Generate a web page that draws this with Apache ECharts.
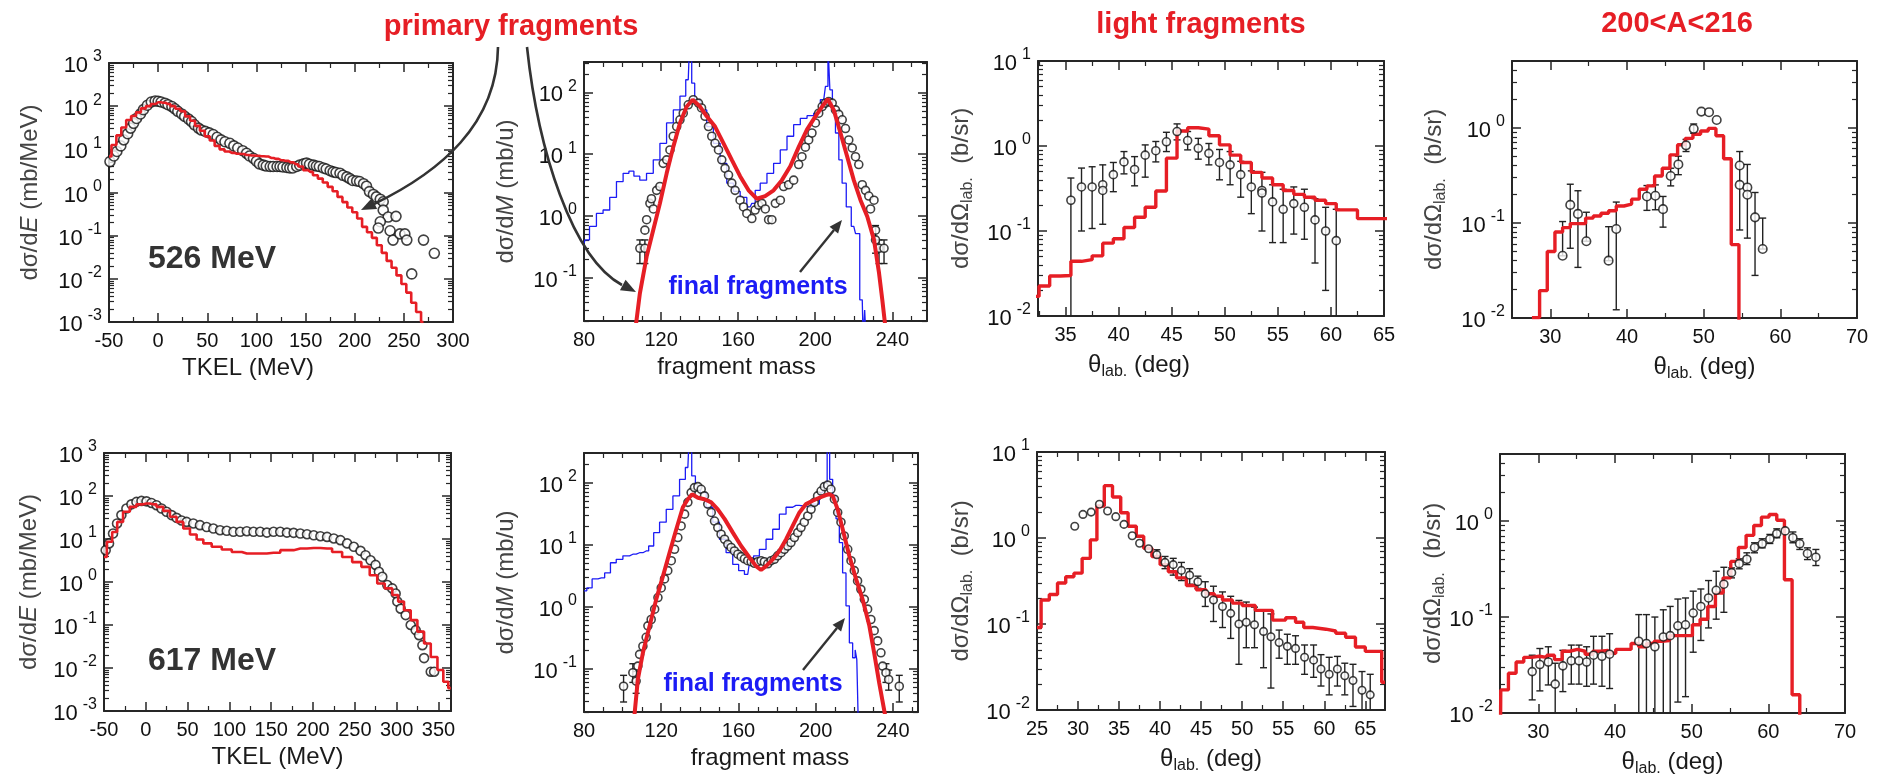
<!DOCTYPE html>
<html><head><meta charset="utf-8">
<script src="https://cdn.jsdelivr.net/npm/echarts@6/dist/echarts.min.js"></script>
<style>html,body{margin:0;padding:0;background:#fff}#c{width:1890px;height:776px}</style>
</head><body><div id="c"></div>
<script>
// ---------------- DATA ----------------
// Panel 1: 526 MeV, TKEL distribution
const tkel526Model = [[-50,6.8],[-45,12.6],[-40,21],[-35,32],[-30,48],[-25,59],[-20,72],[-15,89],[-10,100],[-5,112],[0,123],[5,120],[10,112],[15,100],[20,87],[25,76],[30,58],[35,46],[40,35],[45,27],[50,20],[55,16],[60,12],[65,10],[70,8.9],[75,8.3],[80,7.9],[85,7.8],[90,7.4],[95,7.2],[100,7.1],[105,6.9],[110,6.8],[115,6.3],[120,6.0],[125,5.6],[130,5.4],[135,5.0],[140,4.5],[145,4.0],[150,3.3],[155,3.0],[160,2.5],[165,2.1],[170,1.7],[175,1.35],[180,1.07],[185,0.79],[190,0.6],[195,0.45],[200,0.35],[205,0.25],[210,0.16],[215,0.12],[220,0.089],[225,0.06],[230,0.04],[235,0.026],[240,0.018],[245,0.012],[250,0.0076],[255,0.0048],[260,0.0028],[265,0.0017],[270,0.001]];
const tkel526Exp = [[-49,5.2],[-45,7],[-42,8.9],[-38,12],[-35,16.6],[-31,23],[-28,31],[-25,40],[-22,52],[-18,66],[-15,83],[-11,105],[-7,125],[-3,132],[0,130],[3,125],[7,117],[10,108],[14,98],[17,87],[20,76],[24,66],[27,58],[31,50],[34,44],[37,37],[41,31],[44,28],[48,26],[52,24],[56,22],[60,19],[64,16.6],[68,15],[73,13.8],[77,12],[81,10.7],[86,9.3],[90,8.1],[93,7],[97,6.2],[100,5.3],[103,4.6],[107,4.3],[110,4.1],[114,4.0],[117,4.0],[121,4.0],[124,4.0],[127,3.9],[131,3.8],[134,3.7],[137,3.7],[141,4.0],[144,4.3],[148,4.6],[151,4.8],[154,4.5],[158,4.3],[161,4.1],[164,4.0],[168,3.7],[171,3.5],[175,3.2],[178,3.0],[181,2.9],[185,2.8],[188,2.5],[192,2.3],[195,2.1],[198,1.9],[202,1.85],[205,1.8],[209,1.6],[212,1.4],[215,1.05],[219,0.9],[222,0.79],[226,0.7],[229,0.61],[229,0.39],[234,0.27],[226,0.21],[224,0.15],[236,0.13],[242,0.28],[239,0.079],[246,0.11],[251,0.11],[253,0.079],[258,0.013],[270,0.079],[281,0.039]];

// Panel 2: 526 MeV, fragment mass
const mass526Model = [[106.7,0.015],[109,0.056],[112.5,0.22],[115.9,0.59],[119.4,1.6],[122.9,4.9],[126.3,13],[129.8,32],[133.3,59],[136.4,76],[140.2,59],[143.7,41],[148,28],[152.4,15],[156.7,8.1],[161,4.4],[165.4,2.6],[169.7,1.9],[174,2.1],[178.4,2.6],[182.7,3.8],[187,6.3],[191.4,13],[195.7,25],[200.1,41],[203.6,59],[206.5,78],[209.6,52],[213.1,22],[216.6,9.1],[220,3.8],[223.5,1.8],[227,0.98],[230.5,0.41],[233.1,0.12],[234.8,0.044],[236.5,0.015]];
const mass526Final = [[80,0.36],[81,0.41],[84.7,0.68],[88.2,1.1],[91.6,1.25],[95.1,2.0],[98.6,3.6],[102,4.9],[104.6,5.3],[107.2,4.4],[110.7,3.8],[114.2,4.9],[117.7,8.1],[121.1,15],[124.6,32],[128.1,52],[131.5,87],[134.1,160],[135.4,600],[136.4,141],[138.5,76],[142,52],[145.4,28],[148.9,15],[152.4,7.1],[155.8,3.4],[159.3,2.5],[162.8,2.0],[166.2,1.4],[168,1.6],[169.7,2.6],[173.2,3.4],[176.7,4.9],[180.1,7.1],[183.6,11.7],[187.1,19.5],[190.5,30],[194,38],[197.5,42],[200.9,46],[204.4,76],[206.2,125],[207,600],[208.2,110],[209.6,52],[211.4,22],[213.1,8.1],[214.8,3.4],[217.4,1.4],[220,0.68],[221.8,0.52],[224.4,0.044],[225.3,0.01],[226,0.03],[226.8,0.01]];
const mass526Exp = [[109,0.30],[111.6,0.30],[111.6,0.59],[112.5,0.87],[114.2,1.6],[115,1.9],[116,1.3],[117.7,2.6],[119.4,3.0],[121.1,7.1],[122.9,8.1],[124.6,11.7],[126.3,19.5],[128.1,28],[129.8,36],[131.5,46],[134.1,63],[136.7,76],[139.4,67],[141,56],[142.8,41],[144.6,28],[146.3,19.5],[148,15],[149.8,11.7],[151.5,8.1],[153.2,5.9],[155,4.6],[156.7,3.4],[158.4,2.6],[161,1.8],[162.8,1.4],[164.5,1.1],[167.1,0.91],[168.8,1.25],[170.6,1.5],[172.3,1.6],[174.1,1.3],[175.8,0.87],[177.5,0.87],[179.3,1.6],[181.9,1.8],[183.6,3.0],[186.2,3.2],[188.8,3.8],[191.4,6.8],[193.1,9.1],[194.9,13],[196.6,17],[198.3,22],[200.1,32],[201.8,46],[203.6,59],[205.3,67],[207,71],[208.8,67],[210.5,52],[212.2,44],[214,36],[215.7,26],[217.4,17],[219.2,12.6],[220.9,9.1],[222.6,6.8],[224.4,3.2],[226.1,2.6],[227.8,2.1],[228.7,1.3],[230.5,1.8],[231.3,0.59],[231.3,0.41],[233.1,0.30],[235.7,0.30]];
const mass526Err = [[109,0.17,0.41],[111.6,0.17,0.41],[231.3,0.25,0.7],[233.1,0.17,0.41],[235.7,0.17,0.41]];

// Panel 3: 526 MeV, light fragments angular distribution (model bins: [left edge, value])
const light526Model = [[31.5,0.017],[32.5,0.0225],[33.5,0.0295],[34.5,0.030],[35.5,0.044],[36.5,0.046],[37.5,0.051],[38.5,0.072],[39.5,0.081],[40.5,0.11],[41.5,0.145],[42.5,0.19],[43.5,0.295],[44.5,0.72],[45.5,1.5],[46.5,1.64],[47.5,1.58],[48.5,1.32],[49.5,1.03],[50.5,0.78],[51.5,0.64],[52.5,0.49],[53.5,0.42],[54.5,0.35],[55.5,0.30],[56.5,0.27],[57.5,0.25],[58.5,0.23],[59.5,0.21],[60.5,0.177],[61.5,0.177],[62.5,0.14],[63.5,0.14],[64.5,0.14],[65.5,0.14]];
const light526Exp = [[35.5,0.23],[36.5,0.33],[37.5,0.33],[38.5,0.35],[38.5,0.30],[39.5,0.46],[40.5,0.65],[41.5,0.53],[42.5,0.78],[43.5,0.88],[44.5,1.12],[45.5,1.48],[46.5,1.16],[47.5,0.94],[48.5,0.82],[49.5,0.64],[50.5,0.60],[51.5,0.46],[52.5,0.33],[53.5,0.30],[53.5,0.28],[54.5,0.22],[55.5,0.18],[56.5,0.21],[57.5,0.19],[58.5,0.135],[59.5,0.10],[60.5,0.077]];
const light526Err = [[35.5,0.005,0.42],[36.5,0.10,0.55],[37.5,0.107,0.57],[38.5,0.12,0.6],[39.5,0.29,0.64],[40.5,0.47,0.86],[41.5,0.34,0.75],[42.5,0.43,1.03],[43.5,0.65,1.13],[44.5,0.86,1.45],[45.5,1.18,1.82],[46.5,0.9,1.48],[47.5,0.7,1.23],[48.5,0.6,1.07],[49.5,0.40,0.91],[50.5,0.35,0.86],[51.5,0.25,0.66],[52.5,0.16,0.51],[53.5,0.10,0.49],[54.5,0.073,0.35],[55.5,0.073,0.31],[56.5,0.092,0.33],[57.5,0.08,0.31],[58.5,0.042,0.24],[59.5,0.02,0.19],[60.5,0.005,0.18]];

// Panel 4: 526 MeV, 200<A<216 angular distribution
const heavy526Model = [[27.6,0.0101],[28.6,0.0194],[29.6,0.050],[30.6,0.080],[31.6,0.089],[32.6,0.098],[33.6,0.098],[34.6,0.112],[35.6,0.118],[36.6,0.126],[37.6,0.134],[38.6,0.15],[39.6,0.157],[40.6,0.177],[41.6,0.225],[42.6,0.244],[43.6,0.31],[44.6,0.374],[45.6,0.516],[46.6,0.66],[47.6,0.77],[48.6,0.85],[49.6,0.92],[50.6,0.98],[51.6,0.82],[52.6,0.47],[53.6,0.059],[54.6,0.001],[55.6,0.001]];
const heavy526Exp = [[31.6,0.045],[32.6,0.154],[33.6,0.124],[34.7,0.064],[37.6,0.040],[38.6,0.086],[42.6,0.189],[43.7,0.192],[44.7,0.139],[45.7,0.31],[46.7,0.41],[47.7,0.65],[48.7,0.97],[49.7,1.47],[50.7,1.45],[51.7,1.20],[54.7,0.40],[54.7,0.25],[55.7,0.235],[55.7,0.197],[56.7,0.114],[57.7,0.053]];
const heavy526Err = [[31.6,0.045,0.103],[32.6,0.054,0.254],[33.6,0.034,0.217],[34.7,0.064,0.129],[37.6,0.040,0.091],[38.6,0.0122,0.165],[42.6,0.135,0.246],[43.7,0.137,0.25],[44.7,0.09,0.189],[45.7,0.244,0.374],[46.7,0.32,0.50],[47.7,0.56,0.75],[48.7,0.87,1.09],[54.7,0.084,0.56],[55.7,0.069,0.41],[56.7,0.028,0.208],[57.7,0.053,0.112]];

// Panel 5: 617 MeV, TKEL distribution
const tkel617Model = [[-50,3.8],[-43.2,8.6],[-37.2,14.6],[-31.2,25],[-23.2,43],[-15.2,56],[-7.2,64],[0.8,67],[8.8,64],[16.8,56],[24.8,45],[32.8,33],[40.8,25],[48.8,17.5],[56.8,12.7],[64.8,9.7],[72.8,7.9],[84.8,6.6],[96.8,5.7],[108.8,5.0],[120.8,4.6],[136.8,4.6],[152.8,4.8],[168.8,5.5],[184.8,6.0],[200.8,6.2],[216.8,6.0],[228.8,5.0],[240.8,3.8],[252.8,2.9],[262.8,2.25],[272.8,1.44],[280.8,0.92],[290.8,0.71],[298.8,0.50],[304.8,0.35],[312.8,0.22],[320.8,0.13],[328.8,0.070],[336.8,0.037],[344.8,0.018],[352.8,0.009],[358.8,0.0048],[364.8,0.0034]];
const tkel617Exp = [[-48,5.5],[-44,7.9],[-39.2,13.4],[-34.4,23],[-29.2,36],[-23.2,51],[-17.2,64],[-11.2,73],[-5.2,77],[0.8,75],[6.8,69],[12.8,61],[18.8,51],[24.8,43],[30.8,36],[36.8,31],[42.8,27],[48.8,25],[56.8,23],[64.8,21],[72.8,19],[80.8,17.5],[88.8,16],[96.8,15.5],[104.8,14.7],[112.8,14.7],[120.8,15.2],[128.8,14.7],[136.8,14.7],[144.8,14.1],[152.8,14.7],[160.8,14.7],[168.8,14.1],[176.8,13.9],[184.8,13.4],[192.8,12.9],[200.8,12.2],[208.8,11.6],[216.8,11.2],[224.8,10.3],[232.8,9.4],[240.8,7.9],[248.8,6.6],[256.8,5.3],[262.8,4.2],[268.8,3.2],[274.8,2.5],[278.8,1.73],[282.8,1.32],[288.8,0.85],[294.8,0.71],[298.8,0.54],[300.8,0.35],[304.8,0.24],[310.8,0.17],[316.8,0.10],[322.8,0.076],[326.8,0.058],[330.8,0.034],[332.8,0.017],[340.8,0.0082],[344.8,0.0082]];

// Panel 6: 617 MeV, fragment mass
const mass617Model = [[105.9,0.015],[107.9,0.067],[110.5,0.18],[114,0.49],[117.4,1.31],[120.9,3.1],[124.3,7.4],[127.8,17.7],[131.2,40],[133.8,54],[136,65],[139,57],[142.4,54],[145.9,48],[149.3,37],[152.8,26],[157.1,15.6],[161.4,9.5],[165.7,6.2],[169.1,4.5],[171.7,3.9],[174.3,4.5],[177.8,5.8],[181.2,7.9],[184.7,12.2],[188.1,20],[191.6,33],[195,45],[198.4,51],[201.9,57],[205.3,63],[207.1,65],[208.8,61],[211.4,37],[214,17.7],[217.4,6.6],[220.9,2.8],[224.3,1.31],[227.8,0.49],[230.3,0.18],[232.9,0.059],[236.4,0.015]];
const mass617Final = [[80,1.8],[82.9,2.0],[85.5,2.8],[89,2.9],[92.4,3.5],[95,5.1],[98.4,5.8],[101.9,6.6],[105.3,7.0],[108.8,7.4],[112.2,7.9],[114.8,9.5],[117.4,15.6],[120.9,23],[124.3,37],[127.8,61],[131.2,113],[133.8,175],[135.2,600],[136.4,128],[139,88],[141.6,69],[145,40],[148.4,23],[151.9,12.2],[155.3,7.4],[158.8,4.8],[161.4,3.8],[164.8,3.3],[166.6,5.1],[169.1,6.6],[172.6,8.4],[176,12.2],[179.5,17.7],[182.9,31],[186.4,40],[189.8,43],[193.3,42],[196.7,40],[200.2,45],[203.6,69],[205.3,100],[206.6,600],[207.9,113],[209.7,61],[211.4,26],[213.1,10.8],[214.8,3.5],[216.6,1.03],[218.3,0.26],[220,0.15],[220.9,0.20],[221.7,0.14],[222.6,0.01]];
const mass617Exp = [[100.5,0.052],[105.3,0.086],[107,0.063],[107.9,0.11],[108.8,0.17],[110.5,0.23],[112.2,0.32],[113.1,0.49],[114.8,0.62],[116.6,0.91],[118.3,1.4],[120,2.0],[121.7,2.8],[123.4,3.8],[125.2,5.5],[126.9,8.4],[128.6,13],[130.3,20],[132.1,31],[133.8,48],[135.5,69],[137.2,83],[139,86],[140.7,78],[142.4,61],[144.1,45],[145.9,33],[147.6,24],[149.3,18.8],[151,14.7],[152.8,12.2],[154.5,10.1],[156.2,9.0],[157.9,7.9],[159.7,7.0],[161.4,6.4],[163.1,5.9],[164.8,5.5],[166.6,5.3],[168.3,5.0],[170,5.3],[171.7,5.5],[173.4,5.3],[175.2,4.9],[176.9,5.5],[178.6,5.8],[180.3,6.6],[182.1,7.4],[183.8,8.4],[185.5,9.5],[187.2,10.8],[189,13],[190.7,15.6],[192.4,18.8],[194.1,23],[195.9,29],[197.6,37],[199.3,48],[201,61],[202.8,73],[204.5,86],[206.2,91],[207.9,78],[209.7,54],[211.4,33],[213.1,23],[214.8,13.8],[216.6,8.4],[218.3,5.5],[220,3.8],[221.7,2.6],[223.4,1.9],[225.2,1.31],[226.9,0.91],[228.6,0.62],[230.3,0.41],[232.1,0.28],[233.8,0.18],[234.7,0.11],[236.4,0.086],[237.8,0.067],[243.3,0.052]];
const mass617Err = [[100.5,0.029,0.078],[105.3,0.06,0.12],[107,0.04,0.09],[236.4,0.06,0.12],[237.8,0.045,0.095],[243.3,0.029,0.078]];

// Panel 7: 617 MeV, light fragments
const light617Model = [[25,0.091],[25.5,0.19],[26.5,0.22],[27.5,0.30],[28.5,0.355],[29.5,0.39],[30.5,0.58],[31.5,0.95],[32.3,2.36],[33.2,4.06],[34.2,3.0],[35.2,1.97],[36.1,1.37],[37.1,1.05],[38.0,0.76],[39.0,0.61],[40.0,0.49],[41.0,0.405],[42.0,0.344],[43.2,0.28],[44.4,0.25],[45.6,0.225],[46.6,0.21],[47.6,0.19],[48.8,0.175],[50.0,0.164],[51.6,0.144],[53.7,0.111],[55.3,0.118],[56.5,0.105],[57.5,0.091],[58.6,0.087],[60.2,0.083],[61.4,0.078],[62.6,0.070],[63.8,0.054],[65.0,0.048],[67.0,0.021],[67.4,0.021]];
const light617Exp = [[29.6,1.37],[30.6,1.88],[31.6,2.0],[32.6,2.47],[33.6,2.06],[34.6,1.77],[35.6,1.44],[36.6,1.06],[37.5,0.87],[38.6,0.75],[39.6,0.64],[40.6,0.52],[41.6,0.49],[42.6,0.42],[43.6,0.37],[44.6,0.31],[45.5,0.225],[46.5,0.19],[47.6,0.16],[48.6,0.133],[49.6,0.10],[50.5,0.105],[51.5,0.098],[52.6,0.082],[53.5,0.071],[54.5,0.061],[55.5,0.055],[56.5,0.052],[57.6,0.041],[58.7,0.038],[59.6,0.030],[60.6,0.026],[61.6,0.030],[62.5,0.025],[63.5,0.022],[64.6,0.017],[65.6,0.015]];
const light617Err = [[39.6,0.61,0.73],[40.6,0.44,0.61],[41.6,0.37,0.58],[42.6,0.32,0.52],[43.6,0.29,0.44],[44.6,0.26,0.36],[45.5,0.16,0.31],[46.5,0.107,0.275],[47.6,0.091,0.236],[48.6,0.068,0.21],[49.6,0.034,0.188],[50.5,0.053,0.18],[51.5,0.053,0.157],[52.6,0.031,0.144],[53.5,0.018,0.131],[54.5,0.04,0.085],[55.5,0.034,0.076],[56.5,0.034,0.073],[57.6,0.026,0.057],[58.7,0.024,0.057],[59.6,0.019,0.044],[60.6,0.015,0.041],[61.6,0.019,0.042],[62.5,0.015,0.035],[63.5,0.011,0.034],[64.6,0.005,0.028],[65.6,0.005,0.026]];

// Panel 8: 617 MeV, 200<A<216
const heavy617Model = [[25,0.001],[25.1,0.0174],[26.1,0.026],[27.1,0.034],[28.1,0.038],[29.1,0.039],[30.1,0.038],[31.1,0.040],[32.1,0.036],[33.1,0.044],[34.1,0.046],[35.1,0.044],[36.1,0.041],[37.1,0.044],[38.1,0.045],[39.1,0.042],[40.1,0.046],[41.1,0.046],[42.1,0.053],[43.1,0.049],[44.1,0.053],[45.1,0.056],[46.1,0.057],[47.1,0.064],[48.1,0.064],[49.1,0.064],[50.1,0.083],[51.1,0.095],[52.1,0.129],[53.1,0.178],[54.1,0.256],[55.1,0.38],[56.1,0.53],[57.1,0.71],[58.1,0.90],[59.1,1.10],[60.1,1.17],[61.1,1.02],[62.1,0.245],[63.1,0.0155],[64.1,0.001],[65.1,0.001]];
const heavy617Exp = [[29.2,0.027],[30.2,0.032],[31.3,0.034],[32.2,0.020],[33.2,0.031],[34.3,0.035],[35.3,0.035],[36.3,0.034],[37.2,0.040],[38.3,0.039],[39.3,0.041],[43.1,0.056],[44.1,0.053],[45.2,0.049],[46.3,0.062],[47.2,0.064],[48.2,0.081],[49.2,0.083],[50.2,0.110],[51.2,0.129],[52.2,0.158],[53.2,0.19],[54.2,0.22],[55.2,0.29],[56.2,0.36],[57.2,0.40],[58.2,0.53],[59.2,0.58],[60.2,0.65],[61.1,0.74],[62.2,0.79],[63.2,0.67],[64.1,0.58],[65.1,0.46],[66.2,0.42]];
const heavy617Err = [[29.2,0.0137,0.040],[30.2,0.017,0.047],[31.3,0.0196,0.049],[32.2,0.005,0.033],[33.2,0.0167,0.045],[34.3,0.020,0.051],[35.3,0.020,0.051],[36.3,0.019,0.049],[37.2,0.020,0.063],[38.3,0.019,0.063],[39.3,0.018,0.067],[43.1,0.005,0.106],[44.1,0.005,0.106],[45.2,0.005,0.1],[46.3,0.005,0.119],[47.2,0.005,0.129],[48.2,0.013,0.154],[49.2,0.0148,0.158],[50.2,0.043,0.186],[51.2,0.057,0.196],[52.2,0.077,0.24],[53.2,0.095,0.30],[54.2,0.112,0.33],[55.2,0.256,0.325],[56.2,0.318,0.404],[57.2,0.352,0.467],[58.2,0.467,0.594],[59.2,0.526,0.654],[60.2,0.584,0.726],[61.1,0.67,0.83],[63.2,0.594,0.77],[64.1,0.506,0.654],[65.1,0.397,0.526],[66.2,0.344,0.506]];

// Text
const columnTitles = ['primary fragments', 'light fragments', '200<A<216'];
const energyLabels = ['526 MeV', '617 MeV'];
const finalLabel = 'final fragments';
const yNames = {
  tkel: '{n|dσ/d}{i|E}{n| (mb/MeV)}',
  mass: '{n|dσ/d}{i|M}{n| (mb/u)}',
  omega: '{n|dσ/dΩ}{s|lab.}{n|  (b/sr)}'
};
const xNames = { tkel: 'TKEL (MeV)', mass: 'fragment mass', theta: '{n|θ}{s|lab.}{n| (deg)}' };

// ---------------- CHART ----------------
const FONT = '"Liberation Sans", Arial, Helvetica, sans-serif';
const AX = '#262626';
const RED = '#e61e25';
const BLUE = '#1c1cf5';

const grids = [
  {left:109, top:63, width:344, height:259},
  {left:584, top:62, width:343, height:259},
  {left:1038, top:61, width:346, height:255},
  {left:1512, top:61, width:345, height:257},
  {left:104, top:453, width:347, height:258},
  {left:584, top:453, width:334, height:259},
  {left:1037, top:452, width:348, height:258},
  {left:1500, top:454, width:345, height:259}
].map(g => Object.assign({containLabel:false, outerBoundsMode:'none'}, g));

const nameRich = {
  n: {fontSize:24, color:'#444', fontFamily:FONT, lineHeight:30},
  i: {fontSize:24, color:'#444', fontFamily:FONT, fontStyle:'italic', lineHeight:30},
  s: {fontSize:16, color:'#444', fontFamily:FONT, lineHeight:16, verticalAlign:'bottom'}
};
const xNameRich = {
  n: {fontSize:24, color:'#1a1a1a', fontFamily:FONT, lineHeight:30},
  s: {fontSize:16, color:'#1a1a1a', fontFamily:FONT, lineHeight:16, verticalAlign:'bottom'}
};

function logLabel(v) {
  const e = Math.log10(v), r = Math.round(e);
  if (Math.abs(e - r) > 1e-6) return '';
  return '{b|10}{e|' + r + '}';
}

const axisLineStyle = {color: AX, width: 2};
function xAxes(gi, min, max, step, opts) {
  const base = {
    type:'value', gridIndex:gi, min, max,
    splitLine:{show:false},
    axisLine:{onZero:false, lineStyle:axisLineStyle},
    axisTick:{inside:true, length:9, lineStyle:{color:AX, width:1.5}},
    minorTick:{show:true, splitNumber:opts.minor, length:5, lineStyle:{color:AX, width:1.2}}
  };
  if (opts.useInterval) base.interval = step; else base.splitNumber = opts.split;
  const bottom = Object.assign({}, base, {
    position:'bottom',
    axisLabel:{color:'#111', fontSize:20, fontFamily:FONT, margin:9,
      formatter: v => (Math.abs(v/step - Math.round(v/step)) < 1e-6 ? String(Math.round(v)) : '')},
    name: opts.name, nameLocation:'middle', nameGap: 34, nameMoveOverlap:false,
    nameTextStyle:{fontSize:24, color:'#1a1a1a', fontFamily:FONT, rich:xNameRich, padding:opts.pad || 0}
  });
  const top = Object.assign({}, base, {position:'top', axisLabel:{show:false}});
  return [bottom, top];
}
function yAxes(gi, min, max, name, gap) {
  const base = {
    type:'log', logBase:10, gridIndex:gi, min, max,
    splitLine:{show:false},
    axisLine:{onZero:false, lineStyle:axisLineStyle},
    axisTick:{inside:true, length:9, lineStyle:{color:AX, width:1.5}},
    minorTick:{show:true, splitNumber:9, length:5, lineStyle:{color:AX, width:1.2}}
  };
  const left = Object.assign({}, base, {
    position:'left',
    axisLabel:{formatter:logLabel, margin:7, rich:{
      b:{fontSize:22, color:'#111', fontFamily:FONT, lineHeight:28, verticalAlign:'bottom'},
      e:{fontSize:16, color:'#111', fontFamily:FONT, lineHeight:12, verticalAlign:'top', padding:[0,0,0,5]}
    }},
    name, nameLocation:'middle', nameRotate:90, nameGap:gap, nameMoveOverlap:false,
    nameTextStyle:{fontSize:24, color:'#444', fontFamily:FONT, rich:nameRich}
  });
  const right = Object.assign({}, base, {position:'right', axisLabel:{show:false}});
  return [left, right];
}

const xAxis = [].concat(
  xAxes(0, -50, 300, 50, {useInterval:true, minor:2, name:xNames.tkel, pad:[0,66,0,0]}),
  xAxes(1, 80, 258, 40, {useInterval:true, minor:4, name:xNames.mass, pad:[0,38,0,0]}),
  xAxes(2, 32.4, 65, 5, {split:7, minor:2, name:xNames.theta, pad:[0,144,0,0]}),
  xAxes(3, 25, 70, 10, {split:5, minor:2, name:xNames.theta, pad:[0,0,0,40]}),
  xAxes(4, -50, 365, 50, {useInterval:true, minor:2, name:xNames.tkel}),
  xAxes(5, 80, 253, 40, {useInterval:true, minor:4, name:xNames.mass, pad:[0,0,0,38]}),
  xAxes(6, 25, 67.4, 5, {useInterval:true, minor:2, name:xNames.theta}),
  xAxes(7, 25, 70, 10, {split:5, minor:2, name:xNames.theta})
);
const yAxis = [].concat(
  yAxes(0, 0.001, 1000, yNames.tkel, 64),
  yAxes(1, 0.02, 310, yNames.mass, 63),
  yAxes(2, 0.01, 10, yNames.omega, 62),
  yAxes(3, 0.01, 5, yNames.omega, 63),
  yAxes(4, 0.001, 1000, yNames.tkel, 60),
  yAxes(5, 0.02, 300, yNames.mass, 63),
  yAxes(6, 0.01, 10, yNames.omega, 61),
  yAxes(7, 0.01, 5, yNames.omega, 52)
);

function errRender(params, api) {
  const x = api.value(0), lo = api.value(1), hi = api.value(2);
  const cs = params.coordSys;
  const top = api.coord([x, hi]), bot = api.coord([x, lo]);
  const px = top[0];
  const y1 = Math.max(top[1], cs.y), y2 = Math.min(bot[1], cs.y + cs.height);
  const cap = 3.5;
  const style = {stroke:'#222', lineWidth:1.4};
  const ch = [{type:'line', shape:{x1:px, y1:y1, x2:px, y2:y2}, style}];
  if (top[1] >= cs.y) ch.push({type:'line', shape:{x1:px-cap, y1:top[1], x2:px+cap, y2:top[1]}, style});
  if (bot[1] <= cs.y + cs.height) ch.push({type:'line', shape:{x1:px-cap, y1:bot[1], x2:px+cap, y2:bot[1]}, style});
  return {type:'group', children:ch};
}

const series = [];
function model(i, data, step, width, z) {
  series.push({type:'line', xAxisIndex:2*i, yAxisIndex:2*i, data, step, showSymbol:false, symbol:'none',
    clip:true, lineStyle:{color:RED, width}, z, silent:true});
}
function finalLine(i, data) {
  series.push({type:'line', xAxisIndex:2*i, yAxisIndex:2*i, data, step:'middle', showSymbol:false, symbol:'none',
    clip:true, lineStyle:{color:BLUE, width:1.3}, z:2, silent:true});
}
function exp(i, data, size, z) {
  series.push({type:'scatter', xAxisIndex:2*i, yAxisIndex:2*i, data, symbol:'circle', symbolSize:size,
    itemStyle:{color:'#fff', borderColor:'#111', borderWidth:1.6}, z, silent:true, clip:true});
}
function err(i, data) {
  series.push({type:'custom', xAxisIndex:2*i, yAxisIndex:2*i, data, renderItem:errRender,
    encode:{x:0, y:[1,2]}, z:2, silent:true, clip:true});
}

// top row
exp(0, tkel526Exp, 10, 3); model(0, tkel526Model, 'middle', 2.6, 4);
finalLine(1, mass526Final); err(1, mass526Err); exp(1, mass526Exp, 8, 3); model(1, mass526Model, false, 4, 4);
model(2, light526Model, 'end', 3.4, 3); err(2, light526Err); exp(2, light526Exp, 8, 4);
model(3, heavy526Model, 'end', 3.4, 3); err(3, heavy526Err); exp(3, heavy526Exp, 8.5, 4);
// bottom row
exp(4, tkel617Exp, 9, 3); model(4, tkel617Model, 'middle', 2.6, 4);
finalLine(5, mass617Final); err(5, mass617Err); exp(5, mass617Exp, 8, 3); model(5, mass617Model, false, 4, 4);
model(6, light617Model, 'end', 3.4, 3); err(6, light617Err); exp(6, light617Exp, 7.5, 4);
model(7, heavy617Model, 'end', 3.4, 3); err(7, heavy617Err); exp(7, heavy617Exp, 8, 4);

// annotations
function arrowHead(tx, ty, fx, fy, len, hw) {
  const dx = tx - fx, dy = ty - fy, d = Math.hypot(dx, dy), ux = dx/d, uy = dy/d;
  const bx = tx - ux*len, by = ty - uy*len;
  return {type:'polygon', shape:{points:[[tx,ty],[bx - uy*hw, by + ux*hw],[bx + uy*hw, by - ux*hw]]},
    style:{fill:'#333'}, z:100};
}
const txt = (s, x, y, font, fill) => ({type:'text', z:100,
  style:{text:s, x, y, font, fill, align:'center', verticalAlign:'middle', textAlign:'center', textVerticalAlign:'middle'}});
const curveStyle = {stroke:'#333', lineWidth:2.6, fill:null};
const graphic = [
  txt(columnTitles[0], 511, 27, 'bold 29px ' + FONT, RED),
  txt(columnTitles[1], 1201, 25, 'bold 29px ' + FONT, RED),
  txt(columnTitles[2], 1677, 24, 'bold 29px ' + FONT, RED),
  txt(energyLabels[0], 212, 259, 'bold 32px ' + FONT, '#333'),
  txt(energyLabels[1], 212, 661, 'bold 32px ' + FONT, '#333'),
  txt(finalLabel, 758, 287, 'bold 25px ' + FONT, BLUE),
  txt(finalLabel, 753, 684, 'bold 25px ' + FONT, BLUE),
  {type:'bezierCurve', z:100, shape:{x1:498, y1:47, cpx1:497, cpy1:125, cpx2:440, cpy2:172, x2:374, y2:204}, style:curveStyle},
  arrowHead(361, 210, 440, 172, 15, 6),
  {type:'bezierCurve', z:100, shape:{x1:527, y1:47, cpx1:538, cpy1:150, cpx2:572, cpy2:258, x2:622, y2:285}, style:curveStyle},
  arrowHead(636, 292, 572, 258, 15, 6),
  {type:'line', z:100, shape:{x1:800, y1:272, x2:834, y2:230}, style:{stroke:'#333', lineWidth:2.4}},
  arrowHead(842, 220, 800, 272, 13, 5.5),
  {type:'line', z:100, shape:{x1:803, y1:670, x2:837, y2:628}, style:{stroke:'#333', lineWidth:2.4}},
  arrowHead(845, 618, 803, 670, 13, 5.5)
];

const chart = echarts.init(document.getElementById('c'), null, {renderer:'canvas'});
chart.setOption({
  animation:false, backgroundColor:'#fff',
  grid: grids, xAxis, yAxis, series, graphic
});
</script></body></html>
